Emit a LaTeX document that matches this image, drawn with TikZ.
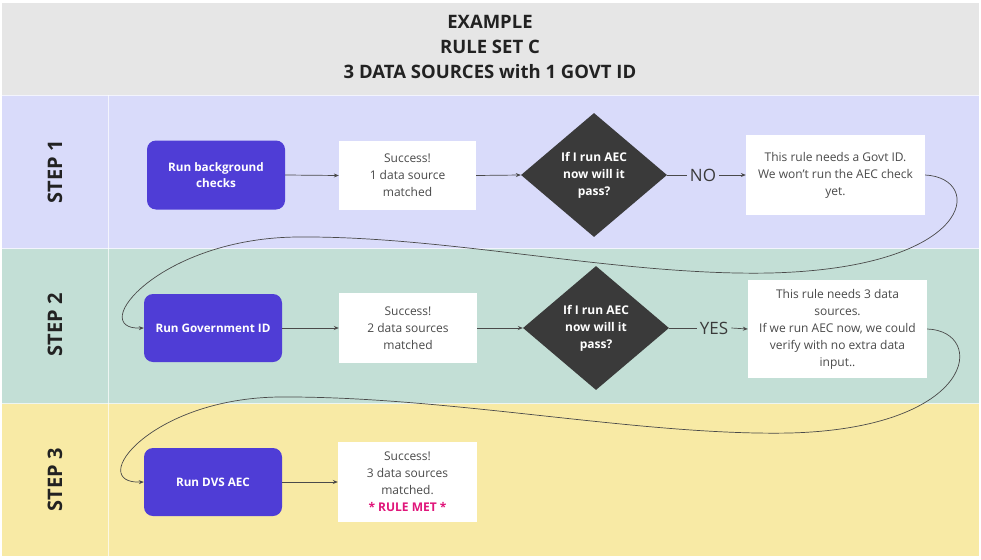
\documentclass[tikz,border=0pt]{standalone}
\usepackage{fontspec}
\setmainfont{Open Sans}
\usetikzlibrary{shapes.geometric,arrows.meta}
\definecolor{titlebg}{HTML}{E6E6E6}
\definecolor{laneone}{HTML}{D9DBFA}
\definecolor{lanetwo}{HTML}{C3DFD6}
\definecolor{lanethree}{HTML}{F8EAA5}
\definecolor{actpurple}{HTML}{4F3DD6}
\definecolor{diamondgray}{HTML}{3A3A3A}
\definecolor{boxtext}{HTML}{4A4A4A}
\definecolor{titletext}{HTML}{222222}
\definecolor{linegray}{HTML}{4A4A4A}
\definecolor{rulepink}{HTML}{E0157A}
\begin{document}
\begin{tikzpicture}[x=1pt,y=-1pt,
  actbox/.style={fill=actpurple, rounded corners=9pt, minimum width=138pt, minimum height=68pt,
    text=white, font=\fontsize{11.7}{16}\selectfont\bfseries, align=center, inner sep=0pt},
  infobox/.style={fill=white, text=boxtext, font=\fontsize{12}{17}\selectfont, align=center, inner sep=0pt},
  decision/.style={diamond, fill=diamondgray, aspect=1.18, minimum width=146pt, minimum height=124pt,
    inner sep=0pt, text=white, font=\fontsize{12}{17}\selectfont\bfseries, align=center},
  lanelabel/.style={rotate=90, font=\fontsize{20}{22}\selectfont\bfseries, text=titletext},
  answer/.style={font=\fontsize{17}{20}\selectfont, text=diamondgray, inner sep=3pt},
  plainline/.style={draw=linegray, line width=0.7pt},
  conn/.style={draw=linegray, line width=0.7pt, -{Stealth[length=5pt,width=4pt]}},
  divider/.style={draw=white, line width=0.8pt, opacity=0.7}
]
\useasboundingbox (0,0) rectangle (981,559);
\fill[white] (0,0) rectangle (981,559);
% bands
\fill[titlebg] (2,3) rectangle (979,95.5);
\fill[laneone] (2,95.5) rectangle (979,248.5);
\fill[lanetwo] (2,248.5) rectangle (979,403.5);
\fill[lanethree] (2,403.5) rectangle (979,556);
\draw[divider] (108,95.5) -- (108,556);
\draw[divider] (2,95.5) -- (979,95.5);
\draw[divider] (2,248.5) -- (979,248.5);
\draw[divider] (2,403.5) -- (979,403.5);

% title
\node[font=\fontsize{18.5}{25}\selectfont\bfseries, text=titletext, align=center] (title) at (490,47)
  {EXAMPLE\\RULE SET C\\3 DATA SOURCES with 1 GOVT ID};

% lane labels
\node[lanelabel] (step1) at (55,172) {STEP 1};
\node[lanelabel] (step2) at (55,325) {STEP 2};
\node[lanelabel] (step3) at (55,480) {STEP 3};

% step 1
\node[actbox, minimum height=69pt] (p1) at (216,175) {Run background\\checks};
\node[infobox, minimum width=137pt, minimum height=69pt] (s1) at (407.5,175.5) {Success!\\1 data source\\matched};
\node[decision] (d1) at (594,175) {If I run AEC\\now will it\\pass?};
\node[answer] (no) at (703,175) {NO};
\node[infobox, minimum width=179pt, minimum height=80pt] (b1) at (835.5,175) {This rule needs a Govt ID.\\We won't run the AEC check\\yet.};

% step 2
\node[actbox] (p2) at (213,328) {Run Government ID};
\node[infobox, minimum width=138pt, minimum height=70pt] (s2) at (408,328) {Success!\\2 data sources\\matched};
\node[decision] (d2) at (596,328) {If I run AEC\\now will it\\pass?};
\node[answer] (yes) at (714,328) {YES};
\node[infobox, minimum width=179pt, minimum height=98pt] (b2) at (837.5,329) {This rule needs 3 data\\sources.\\If we run AEC now, we could\\verify with no extra data\\input..};

% step 3
\node[actbox] (p3) at (213,482) {Run DVS AEC};
\node[infobox, minimum width=139pt, minimum height=80pt] (s3) at (407.5,482) {Success!\\3 data sources\\matched.\\{\color{rulepink}\bfseries * RULE MET *}};

% connectors step 1
\draw[conn] (p1.east) -- (s1.west);
\draw[conn] (s1.east) -- (d1.west);
\draw[plainline] (d1.east) -- (no.west);
\draw[conn] (no.east) -- (b1.west);

% connectors step 2
\draw[conn] (p2.east) -- (s2.west);
\draw[conn] (s2.east) -- (d2.west);
\draw[plainline] (d2.east) -- (yes.west);
\draw[conn] (yes.east) -- (b2.west);

% connector step 3
\draw[conn] (p3.east) -- (s3.west);

% loops between lanes
\draw[conn] (b1.east) .. controls (985,178) and (975,268) .. (770,273)
  .. controls (620,276) and (450,236) .. (300,237)
  .. controls (160,237) and (85,330) .. (p2.west);
\draw[conn] (b2.east) .. controls (987,331) and (977,428) .. (790,433)
  .. controls (640,436) and (450,396) .. (280,397)
  .. controls (150,398) and (85,484) .. (p3.west);
\end{tikzpicture}
\end{document}
